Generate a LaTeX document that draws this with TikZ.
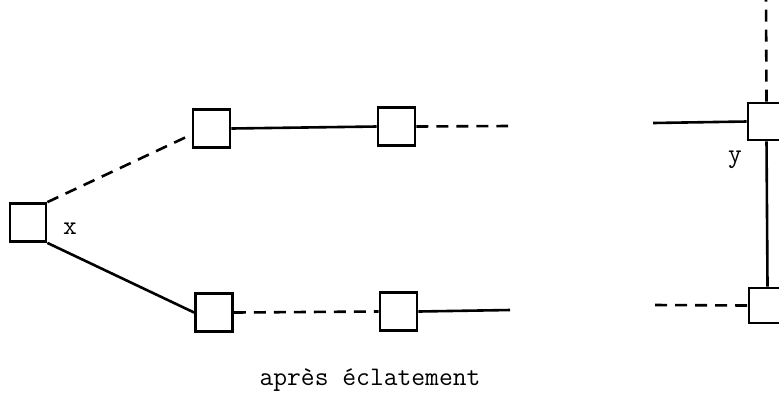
\documentclass[tikz,border=0pt]{standalone}
\usetikzlibrary{calc}
\begin{document}
\begin{tikzpicture}[x=0.5pt,y=-0.5pt,
  box/.style={draw,line width=1.4pt,minimum width=18.5pt,minimum height=19pt,inner sep=0pt},
  link/.style={line width=1.3pt},
  dlink/.style={line width=1.3pt,dash pattern=on 6pt off 4pt},
  lbl/.style={font=\fontsize{13.4}{16}\selectfont\ttfamily,inner sep=0pt}]
\useasboundingbox (0,0) rectangle (779,398);
\clip (0,0) rectangle (779,398);
% left figure
\node[box,minimum width=18pt] (x) at (28,222.5) {};
\node[box] (a1) at (211.5,128.5) {};
\node[box] (a2) at (396.5,126.5) {};
\node[box] (b1) at (214,312.5) {};
\node[box] (b2) at (398.5,311.5) {};
\coordinate (ae) at (508,126);
\coordinate (be) at (510,310);
\draw[dlink] (x.north east) -- ($(a1.west)+(0,6)$);
\draw[link] (x.south east) -- (b1.west);
\draw[link] (a1.east) -- (a2.west);
\draw[dlink] (a2.east) -- (ae);
\draw[dlink] (b1.east) -- (b2.west);
\draw[link] (b2.east) -- (be);
\node[lbl] (lx) at (70,229) {x};
\node[lbl] (cap) at (370,380) {après éclatement};
% right figure
\node[box,minimum height=18.5pt] (c1) at (766.5,121.5) {};
\node[box,minimum height=17.5pt] (c2) at (767.5,305.5) {};
\coordinate (ctop) at (766,0);
\coordinate (cl) at (653,123);
\coordinate (dl) at (655,305);
\draw[dlink] (c1.north) -- (ctop);
\draw[link] (cl) -- (c1.west);
\draw[link] (c1.south) -- (c2.north);
\draw[dlink] (dl) -- (c2.west);
\node[lbl] (ly) at (735,160) {y};
\end{tikzpicture}
\end{document}
